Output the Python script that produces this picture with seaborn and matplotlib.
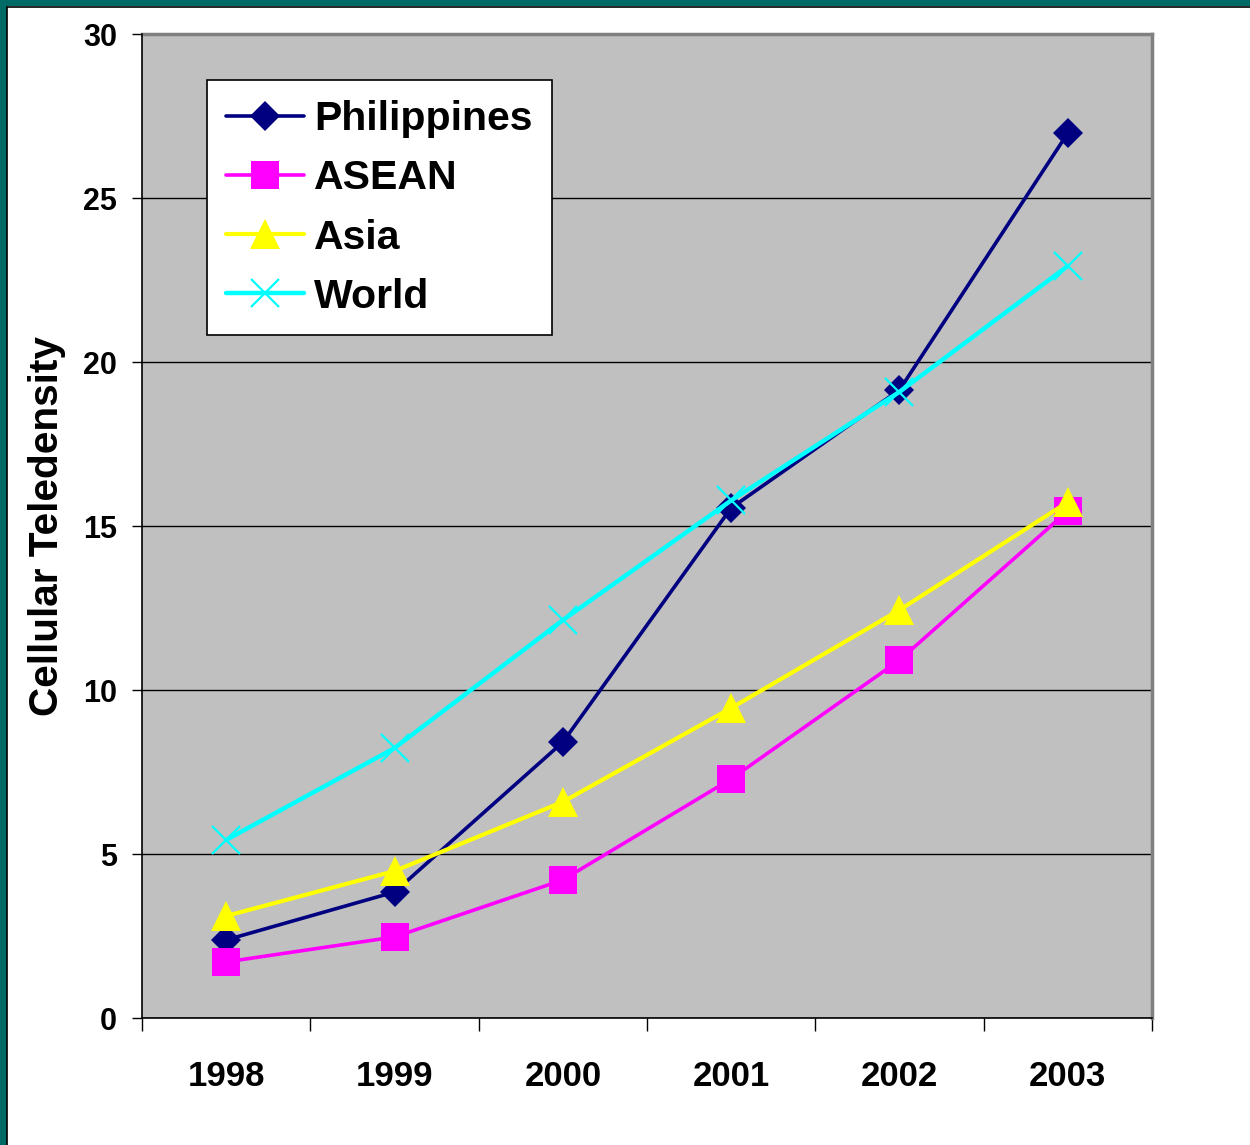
import pandas as pd
import seaborn as sns
import matplotlib.pyplot as plt
from matplotlib.patches import Rectangle
from matplotlib.ticker import FixedLocator

# data
years = ["1998", "1999", "2000", "2001", "2002", "2003"]
philippines = [2.38, 3.84, 8.41, 15.55, 19.15, 26.98]
asean = [1.71, 2.47, 4.21, 7.29, 10.91, 15.46]
asia = [3.11, 4.48, 6.59, 9.45, 12.44, 15.73]
world = [5.43, 8.23, 12.13, 15.78, 19.09, 22.93]

series_names = ["Philippines", "ASEAN", "Asia", "World"]
series_values = [philippines, asean, asia, world]

rows = []
for name, vals in zip(series_names, series_values):
    for i, v in enumerate(vals):
        rows.append({"pos": i, "year": years[i], "series": name, "value": v})
df = pd.DataFrame(rows)

sns.set_theme(style="white")
plt.rcParams['font.family'] = ['Liberation Sans', 'DejaVu Sans']
plt.rcParams['text.color'] = 'black'
plt.rcParams['axes.labelcolor'] = 'black'
plt.rcParams['xtick.color'] = 'black'
plt.rcParams['ytick.color'] = 'black'

fig = plt.figure(figsize=(12.5, 11.45), dpi=100)
ax = fig.add_axes([142 / 1250, 1 - 1018 / 1145, 1010 / 1250, 984 / 1145])
ax.set_facecolor("#c0c0c0")

styles = {
    "Philippines": dict(color="#000080", marker="D", ms=15.5, lw=2.6, mew=0),
    "ASEAN": dict(color="#ff00ff", marker="s", ms=20, lw=2.6, mew=0),
    "Asia": dict(color="#ffff00", marker="^", ms=21, lw=3, mew=0),
    "World": dict(color="#00ffff", marker="x", ms=20, lw=3.2, mew=1.6),
}

for name in series_names:
    st = styles[name]
    sub = df[df["series"] == name]
    sns.lineplot(data=sub, x="pos", y="value", ax=ax, color=st["color"],
                 marker=st["marker"], markersize=st["ms"], linewidth=st["lw"],
                 markeredgewidth=st["mew"], markeredgecolor=st["color"],
                 label=name, legend=False)

ax.set_xlim(-0.5, 5.5)
ax.set_ylim(0, 30)

# y axis
ax.set_yticks([0, 5, 10, 15, 20, 25, 30])
ax.yaxis.grid(True, color="black", linewidth=1)
ax.xaxis.grid(False)
ax.tick_params(axis="y", which="major", left=True, length=7, width=1, color="black",
               pad=11, labelsize=22, labelcolor="black")
for lab in ax.get_yticklabels():
    lab.set_fontweight("bold")

# x axis: labels at centres, tick marks at category boundaries
ax.set_xticks(range(len(years)))
ax.set_xticklabels(years, fontsize=25, fontweight="bold")
ax.xaxis.set_minor_locator(FixedLocator([i - 0.5 for i in range(len(years) + 1)]))
ax.tick_params(axis="x", which="major", length=0, pad=30, labelcolor="black")
ax.tick_params(axis="x", which="minor", bottom=True, length=9, width=1, color="black")

ax.set_xlabel("")
ax.set_ylabel("Cellular Teledensity", fontsize=29.2, fontweight="bold", color="black")
ax.yaxis.set_label_coords(-0.075, 0.5)

for s in ["left", "bottom"]:
    ax.spines[s].set_color("black")
    ax.spines[s].set_linewidth(1.2)
for s in ["top", "right"]:
    ax.spines[s].set_color("#808080")
    ax.spines[s].set_linewidth(2.5)
ax.spines["left"].set_zorder(3)

leg = ax.legend(loc="upper left", bbox_to_anchor=(0.064, 0.953),
                prop={"weight": "bold", "size": 29.5}, frameon=True, fancybox=False,
                edgecolor="black", framealpha=1, handlelength=1.9, handletextpad=0.25,
                labelspacing=0.52, borderpad=0.48, borderaxespad=0)
leg.get_frame().set_linewidth(1.2)
leg.get_frame().set_facecolor("white")
for t in leg.get_texts():
    t.set_color("black")

# slide border
fig.patches.append(Rectangle((0, 1 - 6 / 1145), 1, 6 / 1145, transform=fig.transFigure,
                             facecolor="#006b66", edgecolor="none", zorder=0))
fig.patches.append(Rectangle((0, 0), 7 / 1250, 1, transform=fig.transFigure,
                             facecolor="#006b66", edgecolor="none", zorder=0))
fig.lines.append(plt.Line2D([7 / 1250, 1], [1 - 7 / 1145, 1 - 7 / 1145],
                            transform=fig.transFigure, color="black", lw=1.2))
fig.lines.append(plt.Line2D([7 / 1250, 7 / 1250], [0, 1 - 7 / 1145],
                            transform=fig.transFigure, color="black", lw=1.2))

fig.savefig("out.png", dpi=100, facecolor="white")
